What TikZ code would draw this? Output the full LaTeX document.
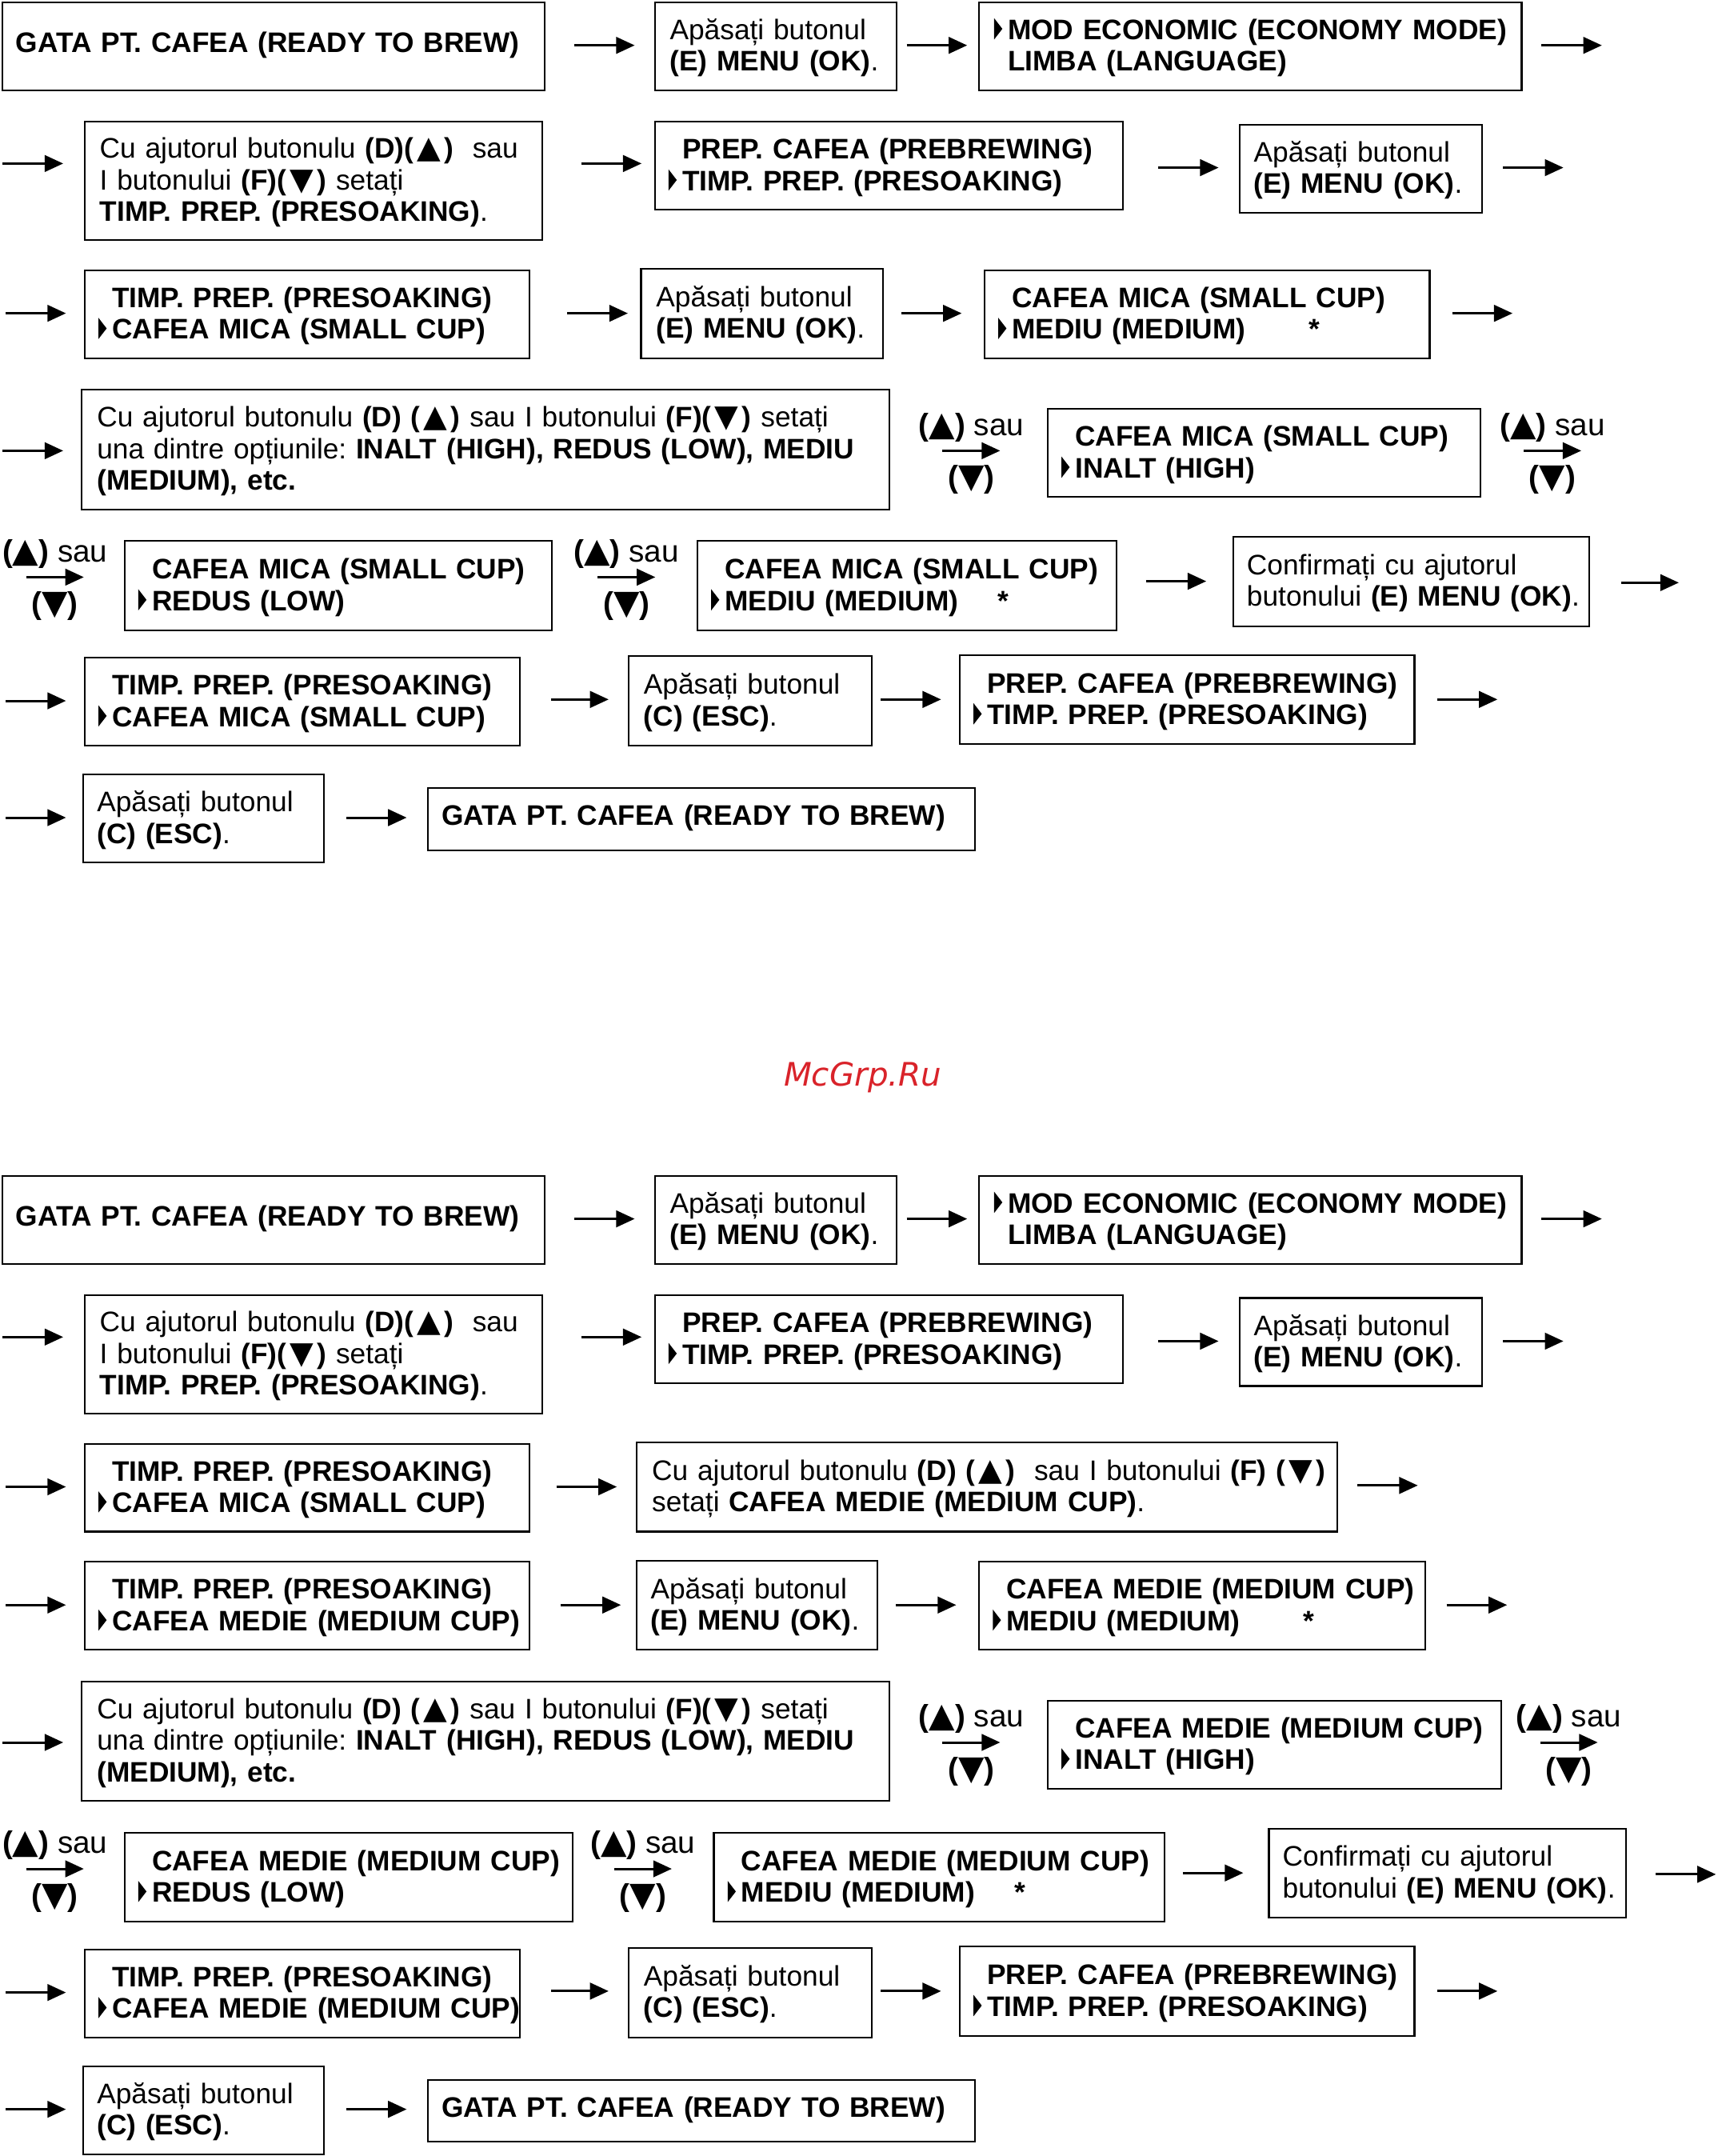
\documentclass[tikz,border=0pt]{standalone}
\usepackage{fontspec}
\setmainfont{Liberation Sans}
\newfontfamily\dvfont{DejaVu Sans}
\usetikzlibrary{arrows.meta}
\definecolor{wmred}{RGB}{217,35,42}
\frenchspacing
\newcommand{\mk}{\llap{\tikz[baseline=0pt]\fill (0pt,0pt) -- (0pt,8.8pt) -- (3.4pt,4.4pt) -- cycle;\hspace{0.08cm}}}
\newcommand{\tup}{\hspace{0.05cm}{\dvfont\fontsize{12.8}{12.8}\selectfont ▲}\hspace{0.05cm}}
\newcommand{\tdn}{\hspace{0.05cm}{\dvfont\fontsize{12.8}{12.8}\selectfont ▼}\hspace{0.05cm}}
\newcommand{\tupL}{{\dvfont\fontsize{14}{14}\selectfont ▲}}
\newcommand{\tdnL}{{\dvfont\fontsize{14}{14}\selectfont ▼}}
\newcommand{\bx}[8][-0.04cm]{%
  \pgfmathsetmacro\bw{(#5-#3)*0.02}%
  \pgfmathsetmacro\bh{(#6-#4)*0.02}%
  \pgfmathsetmacro\pd{#7*0.02}%
  \pgfmathsetmacro\tw{(#5-#3-2*#7)*0.02}%
  \node[box, minimum width=\bw cm, minimum height=\bh cm, inner xsep=\pd cm, text width=\tw cm] (#2) at (#3,#4) {\noindent\raisebox{#1}[\height][\depth]{\begin{tabular}{@{}l@{}}#8\end{tabular}}};}
\newcommand{\ar}[4]{\coordinate (#1s) at (#2,#4); \coordinate (#1e) at (#3,#4); \draw[arr] (#1s) -- (#1e);}
\newcommand{\sau}[3]{%
  \node[lbl] (#1t) at (#2,#3-17) {\textbf{(}\tupL\textbf{)} sau};
  \coordinate (#1s) at (#2-21,#3); \coordinate (#1e) at (#2+21,#3); \draw[arr] (#1s) -- (#1e);
  \node[lbl] (#1b) at (#2,#3+21) {\textbf{(}\tdnL\textbf{)}};}
\newcommand{\apE}{Apăsați butonul\\\textbf{(E) MENU (OK)}.}
\newcommand{\apC}{Apăsați butonul\\\textbf{(C) (ESC)}.}
\newcommand{\gata}{\textbf{GATA PT. CAFEA (READY TO BREW)}}
\newcommand{\modec}{\mk\textbf{MOD ECONOMIC (ECONOMY MODE)}\\\textbf{LIMBA (LANGUAGE)}}
\newcommand{\cuD}{Cu ajutorul butonulu \textbf{(D)(\tup)}\ \ sau\\I butonului \textbf{(F)(\tdn)} setați\\\textbf{TIMP. PREP. (PRESOAKING)}.}
\newcommand{\prepc}{\textbf{PREP. CAFEA (PREBREWING)}\\\mk\textbf{TIMP. PREP. (PRESOAKING)}}
\newcommand{\optiuni}{Cu ajutorul butonulu \textbf{(D)} \textbf{(\tup)} sau I butonului \textbf{(F)(\tdn)} setați\\una dintre opțiunile: \textbf{INALT (HIGH), REDUS (LOW), MEDIU}\\\textbf{(MEDIUM), etc.}}
\newcommand{\confirm}{Confirmați cu ajutorul\\butonului \textbf{(E) MENU (OK)}.}
\tikzset{
  x=0.02cm, y=-0.02cm,
  box/.style={draw, line width=0.7pt, anchor=north west, inner ysep=0pt, align=left, font=\fontsize{11.7}{13.1}\selectfont},
  arr/.style={-{Triangle[length=0.27cm,width=0.24cm]}, line width=1pt},
  lbl/.style={inner sep=0pt, font=\fontsize{12.8}{13.1}\selectfont}
}
\begin{document}
\begin{tikzpicture}
\useasboundingbox (0,0) rectangle (1250,1569);
% ---------------- top section ----------------
\bx[0cm]{b1}{1}{1}{396}{65}{10}{\gata}
\bx{b2}{476}{1}{652}{65}{11}{\apE}
\bx{b3}{712}{1}{1107}{65}{21}{\modec}
\ar{a1}{418}{462}{33}
\ar{a2}{660}{704}{33}
\ar{a3}{1122}{1166}{33}
\ar{a4}{2}{46}{119}
\bx{b4}{61}{88}{394}{174}{11}{\cuD}
\ar{a5}{423}{467}{119}
\bx{b5}{476}{88}{817}{152}{20}{\prepc}
\ar{a6}{843}{887}{122}
\bx{b6}{902}{90}{1078}{154}{10}{\apE}
\ar{a7}{1094}{1138}{122}
\ar{a8}{4}{48}{228}
\bx{b7}{61}{196}{385}{260}{20}{\textbf{TIMP. PREP. (PRESOAKING)}\\\mk\textbf{CAFEA MICA (SMALL CUP)}}
\ar{a9}{413}{457}{228}
\bx{b8}{466}{195}{642}{260}{11}{\apE}
\ar{a10}{656}{700}{228}
\bx{b9}{716}{196}{1040}{260}{20}{\textbf{CAFEA MICA (SMALL CUP)}\\\mk\makebox[4.32cm][l]{\textbf{MEDIU (MEDIUM)}}\textbf{*}}
\ar{a11}{1057}{1101}{228}
\ar{a12}{2}{46}{328}
\bx{b10}{59}{283}{647}{370}{11}{\optiuni}
\sau{s1}{707}{328}
\bx{b11}{762}{297}{1077}{361}{20}{\textbf{CAFEA MICA (SMALL CUP)}\\\mk\textbf{INALT (HIGH)}}
\sau{s2}{1130}{328}
\sau{s3}{40}{420}
\bx{b12}{90}{393}{401}{458}{20}{\textbf{CAFEA MICA (SMALL CUP)}\\\mk\textbf{REDUS (LOW)}}
\sau{s4}{456}{420}
\bx{b13}{507}{393}{812}{458}{20}{\textbf{CAFEA MICA (SMALL CUP)}\\\mk\makebox[3.98cm][l]{\textbf{MEDIU (MEDIUM)}}\textbf{*}}
\ar{a13}{834}{878}{423}
\bx{b14}{897}{390}{1156}{455}{10}{\confirm}
\ar{a14}{1180}{1222}{424}
\ar{a15}{4}{48}{510}
\bx{b15}{61}{478}{378}{542}{20}{\textbf{TIMP. PREP. (PRESOAKING)}\\\mk\textbf{CAFEA MICA (SMALL CUP)}}
\ar{a16}{401}{443}{509}
\bx{b16}{457}{477}{634}{542}{11}{\apC}
\ar{a17}{641}{685}{509}
\bx{b17}{698}{476}{1029}{541}{20}{\prepc}
\ar{a18}{1046}{1090}{509}
\ar{a19}{4}{48}{595}
\bx{b18}{60}{563}{235}{627}{10}{\apC}
\ar{a20}{252}{296}{595}
\bx[0cm]{b19}{311}{573}{709}{618}{10}{\gata}
% ---------------- watermark ----------------
\node[inner sep=0pt, text=wmred, font=\dvfont\itshape\fontsize{13.4}{14}\selectfont] (wm) at (628,784) {McGrp.Ru};
% ---------------- bottom section ----------------
\bx[0cm]{c1}{1}{855}{396}{919}{10}{\gata}
\bx{c2}{476}{855}{652}{919}{11}{\apE}
\bx{c3}{712}{855}{1107}{919}{21}{\modec}
\ar{d1}{418}{462}{887}
\ar{d2}{660}{704}{887}
\ar{d3}{1122}{1166}{887}
\ar{d4}{2}{46}{973}
\bx{c4}{61}{942}{394}{1028}{11}{\cuD}
\ar{d5}{423}{467}{973}
\bx{c5}{476}{942}{817}{1006}{20}{\prepc}
\ar{d6}{843}{887}{976}
\bx{c6}{902}{944}{1078}{1008}{10}{\apE}
\ar{d7}{1094}{1138}{976}
\ar{d8}{4}{48}{1082}
\bx{c7}{61}{1050}{385}{1114}{20}{\textbf{TIMP. PREP. (PRESOAKING)}\\\mk\textbf{CAFEA MICA (SMALL CUP)}}
\ar{d9}{405}{449}{1082}
\bx{c8}{463}{1049}{973}{1114}{11}{Cu ajutorul butonulu \textbf{(D)} \textbf{(\tup)}\ \ sau I butonului \textbf{(F)} \textbf{(\tdn)}\\setați \textbf{CAFEA MEDIE (MEDIUM CUP)}.}
\ar{d10}{988}{1032}{1081}
\ar{d11}{4}{48}{1168}
\bx{c9}{61}{1136}{385}{1200}{20}{\textbf{TIMP. PREP. (PRESOAKING)}\\\mk\textbf{CAFEA MEDIE (MEDIUM CUP)}}
\ar{d12}{408}{452}{1168}
\bx{c10}{463}{1135}{638}{1200}{10}{\apE}
\ar{d13}{652}{696}{1168}
\bx{c11}{712}{1136}{1037}{1200}{20}{\textbf{CAFEA MEDIE (MEDIUM CUP)}\\\mk\makebox[4.32cm][l]{\textbf{MEDIU (MEDIUM)}}\textbf{*}}
\ar{d14}{1053}{1097}{1168}
\ar{d15}{2}{46}{1268}
\bx{c12}{59}{1223}{647}{1310}{11}{\optiuni}
\sau{t1}{707}{1268}
\bx{c13}{762}{1237}{1092}{1301}{20}{\textbf{CAFEA MEDIE (MEDIUM CUP)}\\\mk\textbf{INALT (HIGH)}}
\sau{t2}{1142}{1268}
\sau{t3}{40}{1360}
\bx{c14}{90}{1333}{416}{1398}{20}{\textbf{CAFEA MEDIE (MEDIUM CUP)}\\\mk\textbf{REDUS (LOW)}}
\sau{t4}{468}{1360}
\bx{c15}{519}{1333}{847}{1398}{20}{\textbf{CAFEA MEDIE (MEDIUM CUP)}\\\mk\makebox[3.98cm][l]{\textbf{MEDIU (MEDIUM)}}\textbf{*}}
\ar{d16}{861}{905}{1363}
\bx{c16}{923}{1330}{1183}{1395}{10}{\confirm}
\ar{d17}{1205}{1249}{1364}
\ar{d18}{4}{48}{1450}
\bx{c17}{61}{1418}{378}{1482}{20}{\textbf{TIMP. PREP. (PRESOAKING)}\\\mk\textbf{CAFEA MEDIE (MEDIUM CUP)}}
\ar{d19}{401}{443}{1449}
\bx{c18}{457}{1417}{634}{1482}{11}{\apC}
\ar{d20}{641}{685}{1449}
\bx{c19}{698}{1416}{1029}{1481}{20}{\prepc}
\ar{d21}{1046}{1090}{1449}
\ar{d22}{4}{48}{1535}
\bx{c20}{60}{1503}{235}{1567}{10}{\apC}
\ar{d23}{252}{296}{1535}
\bx[0cm]{c21}{311}{1513}{709}{1558}{10}{\gata}
\end{tikzpicture}
\end{document}
